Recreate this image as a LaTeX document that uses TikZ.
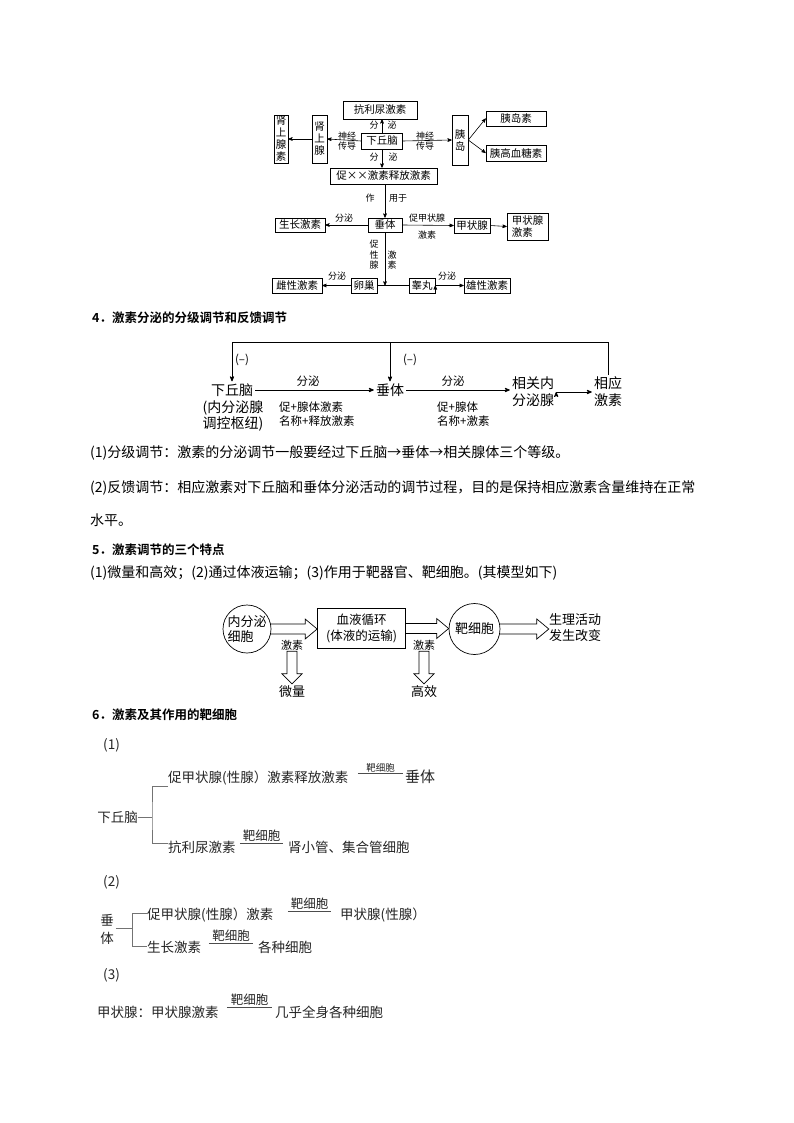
\documentclass[tikz,border=0pt]{standalone}
\usepackage{fontspec}
\setmainfont{Noto Sans CJK SC}[BoldFont={Noto Sans CJK SC Bold}]
\usetikzlibrary{arrows}
\usetikzlibrary{calc}
\usetikzlibrary{positioning}

\newcommand\fatright[2]{%
  \draw [fat] let \p1=(#1), \p2=(#2) in
    (\x1-0.5pt,\y1+5pt) -- (\x2-12pt,\y1+5pt) -- (\x2-12pt,\y1+10pt) -- (\x2,\y1)
    -- (\x2-12pt,\y1-10pt) -- (\x2-12pt,\y1-5pt) -- (\x1-0.5pt,\y1-5pt);}
\newcommand\fatdown[2]{%
  \draw [fat] let \p1=(#1), \p2=(#2) in
    (\x1-5pt,\y1) -- (\x1-5pt,\y2+10pt) -- (\x1-10pt,\y2+10pt) -- (\x1,\y2)
    -- (\x1+10pt,\y2+10pt) -- (\x1+5pt,\y2+10pt) -- (\x1+5pt,\y1) -- cycle;}

\begin{document}
\begin{tikzpicture}[x=1pt,y=-1pt,
    box/.style={draw,line width=0.6pt,inner sep=0pt,font=\fontsize{10.5}{12}\selectfont},
    vbox/.style={box,align=center,font=\fontsize{10.5}{12}\selectfont},
    tag/.style={inner sep=0pt,font=\fontsize{9}{11}\selectfont},
    vtag/.style={tag,align=center,font=\fontsize{9}{10.5}\selectfont},
    link/.style={draw,line width=0.6pt,->,>=stealth'},
    flow/.style={draw,line width=0.8pt,->,>=stealth'},
    big/.style={inner sep=2pt,font=\fontsize{14}{17}\selectfont},
    lbl/.style={inner sep=0pt,font=\fontsize{11.5}{13}\selectfont},
    hd/.style={anchor=west,inner sep=0pt,font=\bfseries\fontsize{12.5}{15}\selectfont},
    txt/.style={anchor=west,inner sep=0pt,font=\fontsize{14}{17}\selectfont},
    cell/.style={draw,circle,line width=0.7pt,inner sep=0pt,align=left,font=\fontsize{13}{15.5}\selectfont},
    fat/.style={line width=0.7pt,line join=miter},
    gtxt/.style={txt,text=black!85,font=\fontsize{13.5}{17}\selectfont},
    tgt/.style={anchor=south,inner sep=1pt,text=black!85,font=\fontsize{12.5}{14}\selectfont},
    brk/.style={draw,line width=0.6pt,black!55}]

  \path [fill=white] (0,0) rectangle (794,1123);

  % glands and hormones
  \node [box,minimum width=74,minimum height=18] (adh) at (380,110) {抗利尿激素};
  \node [box,minimum width=41,minimum height=16] (hyp) at (382,141) {下丘脑};
  \node [box,minimum width=107,minimum height=16] (rel) at (383.5,176) {促××激素释放激素};
  \node [vbox,minimum width=15,minimum height=48] (adr) at (319.5,139) {肾\\上\\腺};
  \node [vbox,minimum width=14,minimum height=48] (adrh) at (281,139) {肾\\上\\腺\\素};
  \node [vbox,minimum width=16,minimum height=50] (isl) at (460,140) {胰\\岛};
  \node [box,minimum width=60,minimum height=15] (ins) at (516,118.5) {胰岛素};
  \node [box,minimum width=60,minimum height=16] (glu) at (516,153) {胰高血糖素};
  \node [box,minimum width=34,minimum height=14] (pit) at (385,225) {垂体};
  \node [box,minimum width=50,minimum height=14] (gh) at (300,225) {生长激素};
  \node [box,minimum width=36,minimum height=15] (thy) at (472,225.5) {甲状腺};
  \node [box,minimum width=41,minimum height=27,align=left] (thh) at (527.5,226.5) {甲状腺\\激素};
  \node [box,minimum width=26,minimum height=15] (ova) at (364,285.5) {卵巢};
  \node [box,minimum width=26,minimum height=15] (tes) at (422,285.5) {睾丸};
  \node [box,minimum width=50,minimum height=15] (est) at (297,285.5) {雌性激素};
  \node [box,minimum width=46,minimum height=15] (andr) at (487,285.5) {雄性激素};

  \node [tag] (t_up1) at (374,125) {分};
  \node [tag] (t_up2) at (392,125) {泌};
  \node [tag] (t_dn1) at (374,157) {分};
  \node [tag] (t_dn2) at (393,157) {泌};
  \node [vtag] (t_nl) at (347,141) {神经\\传导};
  \node [vtag] (t_nr) at (425,141) {神经\\传导};
  \node [tag] (t_act1) at (370,198) {作};
  \node [tag] (t_act2) at (398,198) {用于};
  \node [tag] (t_gh) at (344,218) {分泌};
  \node [tag] (t_tsh1) at (427,218) {促甲状腺};
  \node [tag] (t_tsh2) at (427,235) {激素};
  \node [vtag] (t_gn1) at (374,255) {促\\性\\腺};
  \node [vtag] (t_gn2) at (392,260) {激\\素};
  \node [tag] (t_est) at (337,276) {分泌};
  \node [tag] (t_and) at (447,276) {分泌};

  \path [link]
    (hyp.north) edge (hyp.north |- adh.south)
    (hyp.south) edge (hyp.south |- rel.north)
    (hyp.west) edge (adr.east)
    (adr.west) edge (adrh.east)
    (hyp.east) edge (isl.west)
    (isl.east) edge (ins.west)
    (isl.east) edge (glu.west)
    (pit.north |- rel.south) edge (pit.north)
    (pit.west) edge (gh.east)
    (pit.east) edge (thy.west)
    (thy.east) edge (thh.west)
    (pit.south) edge (pit.south |- ova.east)
    (ova.west) edge (est.east)
    (tes.east) edge (andr.west);
  \draw [line width=0.6pt] (ova.east) -- (tes.west);

  % section 4
  \node [hd] (h4) at (92,318) {4．激素分泌的分级调节和反馈调节};

  \node [big] (fhyp) at (232,390) {下丘脑};
  \node [big,anchor=north,align=center,font=\fontsize{14}{15.5}\selectfont] (fnote) at (233,399) {(内分泌腺\\调控枢纽)};
  \node [big] (fpit) at (390,390) {垂体};
  \node [big,align=left] (fgl) at (533,392) {相关内\\分泌腺};
  \node [big,align=left] (fho) at (608,392) {相应\\激素};
  \coordinate (ftop) at (0,342);

  \node [lbl] (fneg1) at (242,360) {(–)};
  \node [lbl] (fneg2) at (410,360) {(–)};
  \node [lbl] (fs1) at (308,381) {分泌};
  \node [lbl,anchor=west] (fr1a) at (279,407) {促+腺体激素};
  \node [lbl,anchor=west] (fr1b) at (279,421) {名称+释放激素};
  \node [lbl] (fs2) at (453,381) {分泌};
  \node [lbl,anchor=west] (fr2a) at (437,407) {促+腺体};
  \node [lbl,anchor=west] (fr2b) at (437,421) {名称+激素};

  \path [flow]
    (fhyp.east) edge (fpit.west)
    (fpit.east) edge (fpit.east -| fgl.west)
    (fgl.east) edge (fho.west);
  \draw [flow] (fho.north) -- (fho.north |- ftop) -| (fhyp.north);
  \draw [flow] (fpit.north |- ftop) -- (fpit.north);

  \node [txt] (p1) at (90,453) {(1)分级调节：激素的分泌调节一般要经过下丘脑→垂体→相关腺体三个等级。};
  \node [txt] (p2) at (90,488) {(2)反馈调节：相应激素对下丘脑和垂体分泌活动的调节过程，目的是保持相应激素含量维持在正常};
  \node [txt] (p3) at (90,520) {水平。};

  % section 5
  \node [hd] (h5) at (92,550) {5．激素调节的三个特点};
  \node [txt] (p4) at (90,573) {(1)微量和高效；(2)通过体液运输；(3)作用于靶器官、靶细胞。(其模型如下)};

  \node [cell,minimum size=48] (src) at (247,629) {内分泌\\细胞};
  \node [draw,line width=0.7pt,minimum width=88,minimum height=40,align=center,inner sep=0pt,
         font=\fontsize{12.5}{16}\selectfont] (blood) at (361.5,628.5) {血液循环\\(体液的运输)};
  \node [cell,minimum size=51] (tcell) at (474.5,629) {靶细胞};
  \node [align=left,inner sep=0pt,font=\fontsize{13}{16}\selectfont] (chg) at (575,628) {生理活动\\发生改变};
  \node [inner sep=1pt,font=\fontsize{11}{13}\selectfont] (hm1) at (292,645) {激素};
  \node [inner sep=1pt,font=\fontsize{11}{13}\selectfont] (hm2) at (424,645) {激素};
  \node [inner sep=2pt,font=\fontsize{13}{15}\selectfont] (tiny) at (292,692) {微量};
  \node [inner sep=2pt,font=\fontsize{13}{15}\selectfont] (eff) at (424,692) {高效};

  \fatright{src.east}{blood.west}
  \fatright{blood.east}{tcell.west}
  \fatright{tcell.east}{chg.west}
  \fatdown{hm1.south}{tiny.north}
  \fatdown{hm2.south}{eff.north}

  % section 6
  \node [hd] (h6) at (92,715) {6．激素及其作用的靶细胞};

  \node [gtxt] (n1) at (103,745) {(1)};
  \node [gtxt,anchor=east] (s1) at (138,817) {下丘脑};
  \node [gtxt] (s1a) at (168,778) {促甲状腺(性腺）激素释放激素};
  \node [tgt,minimum width=45,font=\fontsize{9.5}{11}\selectfont] (k1) at (380.5,773) {靶细胞};
  \node [gtxt,font=\fontsize{15}{17}\selectfont] (s1b) at (405,777) {垂体};
  \node [gtxt] (s1c) at (168,847) {抗利尿激素};
  \node [tgt,minimum width=43] (k2) at (261.5,843) {靶细胞};
  \node [gtxt] (s1d) at (288,847) {肾小管、集合管细胞};
  \draw [brk] (s1.east) -- ++(14,0);
  \draw [brk] ($(s1a.west)+(0,8)$) -| ($(s1.east)+(14,0)$) |- ($(s1c.west)+(0,-4)$);

  \node [gtxt] (n2) at (103,882) {(2)};
  \node [gtxt,anchor=center,align=center,font=\fontsize{13.5}{18}\selectfont] (s2) at (107,929) {垂\\体};
  \node [gtxt] (s2a) at (147,915) {促甲状腺(性腺）激素};
  \node [tgt,minimum width=43] (k3) at (309.5,911) {靶细胞};
  \node [gtxt] (s2b) at (340,915) {甲状腺(性腺）};
  \node [gtxt] (s2c) at (147,947) {生长激素};
  \node [tgt,minimum width=44] (k4) at (231,943) {靶细胞};
  \node [gtxt] (s2d) at (258,947) {各种细胞};
  \draw [brk] ($(s2.east)+(2,-1)$) -- ++(16,0);
  \draw [brk] ($(s2a.west)+(0,-2)$) -| ($(s2.east)+(18,-1)$) |- ($(s2c.west)+(0,-1)$);

  \node [gtxt] (n3) at (103,975) {(3)};
  \node [gtxt] (s3a) at (97,1012) {甲状腺：甲状腺激素};
  \node [tgt,minimum width=45] (k5) at (249.5,1007) {靶细胞};
  \node [gtxt] (s3b) at (275,1012) {几乎全身各种细胞};

  \foreach \k in {k1,k2,k3,k4,k5}
    \draw [line width=0.7pt,black!70] (\k.south west) -- (\k.south east);

\end{tikzpicture}
\end{document}
